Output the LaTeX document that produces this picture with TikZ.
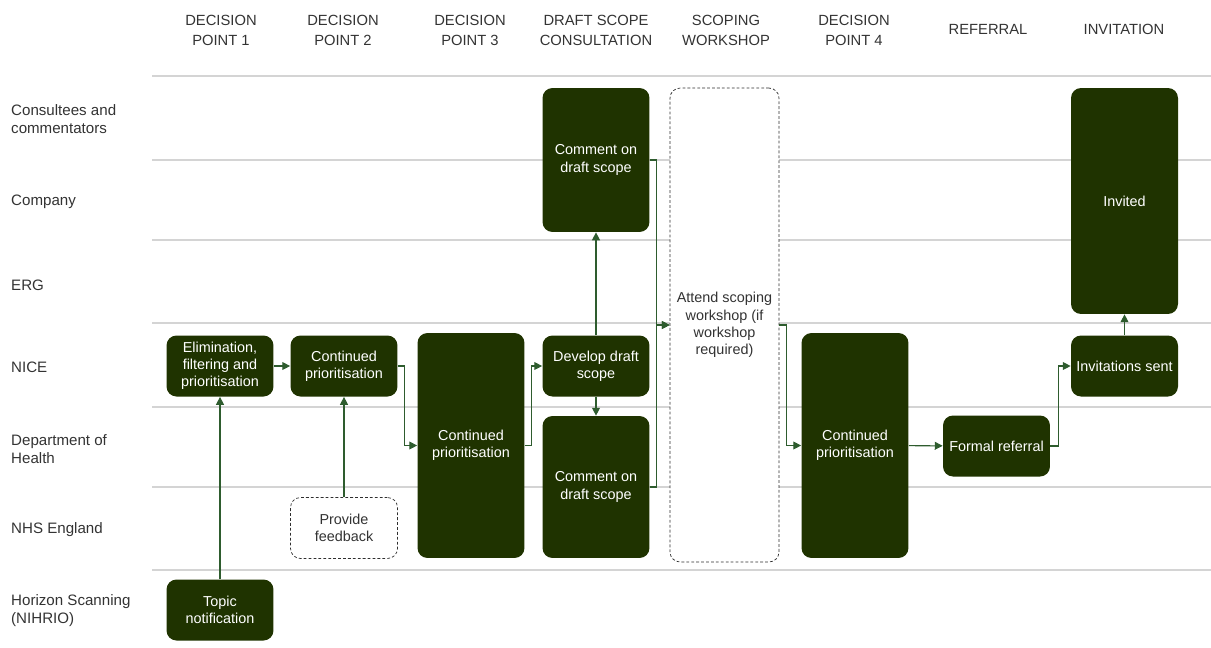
\documentclass[tikz,border=0pt]{standalone}
\usepackage{fontspec}
\setmainfont{Liberation Sans}
\usepackage{xcolor}
\definecolor{BoxGreen}{HTML}{1F3300}
\definecolor{LinkGreen}{HTML}{2E5C2E}
\definecolor{LaneGray}{HTML}{D4D4D4}
\definecolor{TextGray}{HTML}{333333}
\usetikzlibrary{arrows.meta,positioning,calc}

\begin{document}
\begin{tikzpicture}[
x=0.02cm, y=-0.02cm,
stage/.style={
	rounded corners=2mm,
	fill=BoxGreen,
	text=white,
	align=center,
	inner sep=2pt,
	minimum width=2.14cm,
	minimum height=1.22cm,
	font=\fontsize{8.2}{9.8}\selectfont
},
optional/.style={
	stage,
	fill=white,
	text=TextGray,
	draw=TextGray!90!black,
	dash pattern=on 1.6pt off 1.2pt,
	thin
},
lane/.style={
	align=left,
	anchor=west,
	text=TextGray,
	font=\fontsize{8.6}{10.2}\selectfont
},
phase/.style={
	align=center,
	text=TextGray,
	font=\fontsize{8.4}{11.3}\selectfont
},
link/.style={
	LinkGreen,
	semithick,
	-{Triangle[length=4.5pt,width=4.5pt]}
},
]
\useasboundingbox (0,0) rectangle (1211,647);

% swim lanes
\foreach \y in {76,160,240,323,407,487,570}
	\draw[LaneGray, semithick] (152,\y) -- (1211,\y);

% column headers
\node[phase] (hdrA) at (221,30) {DECISION\\POINT 1};
\node[phase] (hdrB) at (343,30) {DECISION\\POINT 2};
\node[phase] (hdrC) at (470,30) {DECISION\\POINT 3};
\node[phase] (hdrD) at (596,30) {DRAFT SCOPE\\CONSULTATION};
\node[phase] (hdrE) at (726,30) {SCOPING\\WORKSHOP};
\node[phase] (hdrF) at (854,30) {DECISION\\POINT 4};
\node[phase] (hdrG) at (988,29) {REFERRAL};
\node[phase] (hdrH) at (1124,29) {INVITATION};

% row labels
\node[lane] (rowA) at (5,119) {Consultees and\\commentators};
\node[lane] (rowB) at (5,202) {Company};
\node[lane] (rowC) at (5,285) {ERG};
\node[lane] (rowD) at (5,367) {NICE};
\node[lane] (rowE) at (5,449) {Department of\\Health};
\node[lane] (rowF) at (5,530) {NHS England};
\node[lane] (rowG) at (5,611) {Horizon Scanning\\(NIHRIO)};

% stages
\node[stage] (topic) at (220,610) {Topic\\notification};
\node[stage] (elim) at (220,366) {Elimination,\\filtering and\\prioritisation};
\node[stage] (contB) at (344,366) {Continued\\prioritisation};
\node[optional] (feedback) at (344,528) {Provide\\feedback};
\node[stage, minimum height=4.5cm] (contC) at (471,445.5) {Continued\\prioritisation};
\node[stage] (develop) at (596,366) {Develop draft\\scope};
\node[stage, minimum height=2.88cm] (comtop) at (596,160) {Comment on\\draft scope};
\node[stage, minimum height=2.84cm] (combot) at (596,487) {Comment on\\draft scope};
\node[optional, minimum width=2.18cm, minimum height=9.48cm] (workshop) at (724.5,325) {Attend scoping\\workshop (if\\workshop\\required)};
\node[stage, minimum height=4.5cm] (contD) at (855,445.5) {Continued\\prioritisation};
\node[stage] (referral) at (996.5,446) {Formal referral};
\node[stage] (invsent) at (1124.5,366) {Invitations sent};
\node[stage, minimum height=4.52cm] (invited) at (1124.5,201) {Invited};

% flow
\draw[link] (topic) -- (elim);
\draw[link] (elim) -- (contB);
\draw[link] (feedback) -- (contB);
\draw[link] (contB.east) -- ++(7,0) |- (contC.west);
\draw[link] (contC.east) -- ++(7,0) |- (develop.west);
\draw[link] (develop) -- (comtop);
\draw[link] (develop) -- (combot);
\draw[link] (comtop.east) -- ++(7,0) |- (workshop.west);
\draw[link] (combot.east) -- ++(7,0) |- (workshop.west);
\draw[link] (workshop.east) -- ++(7,0) |- (contD.west);
\draw[link] (contD) -- (referral);
\draw[link] (referral.east) -- ++(8,0) |- (invsent.west);
\draw[link] (invsent) -- (invited);

\end{tikzpicture}
\end{document}
